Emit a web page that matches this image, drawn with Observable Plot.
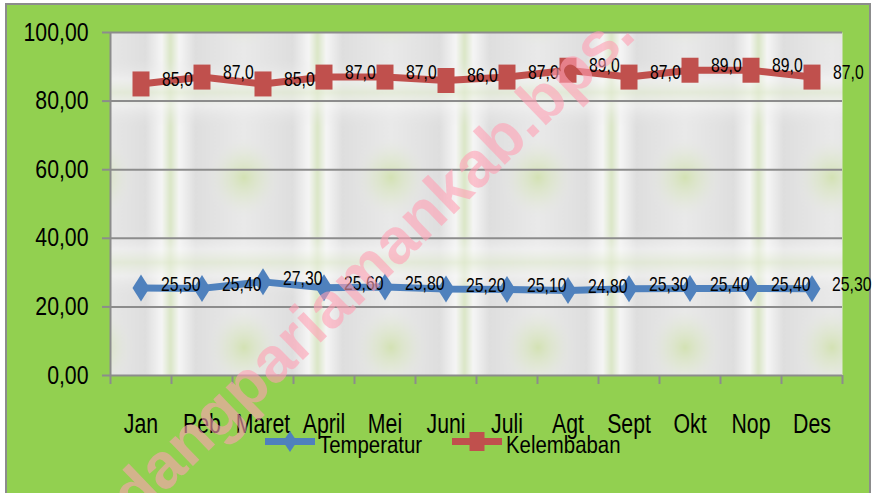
<!DOCTYPE html>
<html><head><meta charset="utf-8">
<script src="https://cdn.jsdelivr.net/npm/d3@7"></script>
<script src="https://cdn.jsdelivr.net/npm/@observablehq/plot@0.6"></script>
<style>
html,body{margin:0;padding:0;background:#fff;overflow:hidden;}
#wrap{position:relative;width:873px;height:493px;overflow:hidden;}
#bg{position:absolute;left:5px;top:3px;width:862px;height:500px;background:#92D050;border:2px solid #8c8c8c;}
#chart{position:absolute;left:0;top:0;}
#over{position:absolute;left:0;top:0;pointer-events:none;}
</style></head><body>
<div id="wrap"><div id="bg"></div><div id="chart"></div><svg id="over" width="873" height="493"></svg></div>
<script>
const months = ["Jan","Peb","Maret","April","Mei","Juni","Juli","Agt","Sept","Okt","Nop","Des"];
const temperatur = [25.5,25.4,27.3,25.6,25.8,25.2,25.1,24.8,25.3,25.4,25.4,25.3];
const kelembaban = [85,87,85,87,87,86,87,89,87,89,89,87];
const yTicks = [0,20,40,60,80,100];
const seriesNames = ["Temperatur","Kelembaban"];
const seriesColors = ["#4F81BD","#C0504D"];
const watermark = "padangpariamankab.bps.";

const FONT = '"Liberation Sans",Arial,sans-serif';
const fmt = (v, n) => v.toFixed(n).replace(".", ",");

const tempRows = months.map((m, i) => ({m, x: i + 0.5, v: temperatur[i]}));
const humRows = months.map((m, i) => ({m, x: i + 0.5, v: kelembaban[i]}));

const diamond = {draw(ctx) {ctx.moveTo(0,-13.5);ctx.lineTo(8.5,0);ctx.lineTo(0,13.5);ctx.lineTo(-8.5,0);ctx.closePath();}};
const square = {draw(ctx) {ctx.rect(-8.5,-12.5,17,25);}};

const plot = Plot.plot({
  width: 873, height: 493,
  marginLeft: 110, marginRight: 31, marginTop: 32, marginBottom: 118,
  style: {background: "transparent", fontFamily: FONT, color: "#000", overflow: "visible"},
  x: {domain: [0, 12], label: null},
  y: {domain: [0, 100], label: null},
  marks: [
    Plot.frame({fill: "url(#bgpat)", stroke: null}),
    Plot.gridY(yTicks, {stroke: "#8c8c8c", strokeOpacity: 1, strokeWidth: 2}),
    Plot.ruleX([0], {stroke: "#8c8c8c", strokeWidth: 2}),
    Plot.axisY({ticks: yTicks, tickFormat: d => fmt(d, 2), tickSize: 8, tickPadding: 14, fontSize: 25, stroke: "#8c8c8c", strokeWidth: 2}),
    Plot.axisX({ticks: d3.range(13), tickFormat: () => "", tickSize: 9, stroke: "#8c8c8c", strokeWidth: 2}),
    Plot.axisX({ticks: months.map((m, i) => i + 0.5), tickFormat: d => months[Math.floor(d)], tickSize: 0, tickPadding: 38, fontSize: 28}),
    Plot.line(tempRows, {x: "x", y: "v", stroke: seriesColors[0], strokeWidth: 7, strokeLinejoin: "round"}),
    Plot.line(humRows, {x: "x", y: "v", stroke: seriesColors[1], strokeWidth: 7, strokeLinejoin: "round"}),
    Plot.dot(tempRows, {x: "x", y: "v", symbol: diamond, fill: seriesColors[0], stroke: "none"}),
    Plot.dot(humRows, {x: "x", y: "v", symbol: square, fill: seriesColors[1], stroke: "none"}),
    Plot.text(tempRows, {x: "x", y: "v", text: d => fmt(d.v, 2), dx: 20, dy: -4, textAnchor: "start", fontSize: 21, fill: "#000"}),
    Plot.text(humRows, {x: "x", y: "v", text: d => fmt(d.v, 1), dx: 21, dy: -5, textAnchor: "start", fontSize: 21, fill: "#000"})
  ]
});
document.getElementById("chart").appendChild(plot);

// narrow the text horizontally (the reference uses a condensed face)
function squeeze(sel, s) {
  plot.querySelectorAll(sel).forEach(t => {
    const tr = t.getAttribute("transform");
    if (tr && tr.includes("translate")) t.setAttribute("transform", tr + ` scale(${s},1)`);
    else {
      const x = +t.getAttribute("x") || 0, y = +t.getAttribute("y") || 0;
      t.setAttribute("transform", `translate(${x},${y}) scale(${s},1) translate(${-x},${-y})`);
    }
  });
}
squeeze('g[aria-label="y-axis tick label"] text', 0.85);
squeeze('g[aria-label="x-axis tick label"] text', 0.76);
squeeze('g[aria-label="text"] text', 0.75);

// background texture pattern for plot area
const svg = d3.select(plot);
const defs = svg.insert("defs", ":first-child");
const gx = defs.append("linearGradient").attr("id", "gx").attr("x1", 0).attr("x2", 1).attr("y1", 0).attr("y2", 0);
[[0,"#dae6c6"],[0.06,"#f5f5f5"],[0.17,"#dedede"],[0.5,"#e9e9e9"],[0.83,"#dedede"],[0.94,"#f5f5f5"],[1,"#dae6c6"]]
  .forEach(([o,c]) => gx.append("stop").attr("offset", o).attr("stop-color", c));
const gy = defs.append("linearGradient").attr("id", "gy").attr("x1", 0).attr("x2", 0).attr("y1", 0).attr("y2", 1);
[[0,"#e2ebd2",0.7],[0.08,"#f7f7f7",0.5],[0.2,"#e6e6e6",0],[0.8,"#e6e6e6",0],[0.92,"#f7f7f7",0.5],[1,"#e2ebd2",0.7]]
  .forEach(([o,c,a]) => gy.append("stop").attr("offset", o).attr("stop-color", c).attr("stop-opacity", a));
const gr = defs.append("radialGradient").attr("id", "gr");
[[0,"#cfe0aa",0.85],[0.5,"#dae6c4",0.45],[1,"#e8e8e8",0]]
  .forEach(([o,c,a]) => gr.append("stop").attr("offset", o).attr("stop-color", c).attr("stop-opacity", a));
const pat = defs.append("pattern").attr("id", "bgpat").attr("patternUnits", "userSpaceOnUse")
  .attr("x", 170).attr("y", 92).attr("width", 147).attr("height", 170);
pat.append("rect").attr("width", 147).attr("height", 170).attr("fill", "url(#gx)");
pat.append("rect").attr("width", 147).attr("height", 170).attr("fill", "url(#gy)");
pat.append("ellipse").attr("cx", 73.5).attr("cy", 85).attr("rx", 38).attr("ry", 42).attr("fill", "url(#gr)");

// legend + watermark overlay
const over = d3.select("#over");
const legendItems = [
  {name: seriesNames[0], color: seriesColors[0], x0: 265, sym: "diamond"},
  {name: seriesNames[1], color: seriesColors[1], x0: 452, sym: "square"}
];
legendItems.forEach(it => {
  over.append("line").attr("x1", it.x0).attr("x2", it.x0 + 50).attr("y1", 441.5).attr("y2", 441.5)
    .attr("stroke", it.color).attr("stroke-width", 7);
  const cx = it.x0 + 25;
  if (it.sym === "diamond") {
    over.append("path").attr("d", `M${cx},431L${cx+7},441.5L${cx},452L${cx-7},441.5Z`).attr("fill", it.color);
  } else {
    over.append("rect").attr("x", cx - 7.5).attr("y", 432).attr("width", 15).attr("height", 19).attr("fill", it.color);
  }
  const tx = it.x0 + 54;
  over.append("text").attr("font-family", FONT).attr("font-size", 24).attr("fill", "#000")
    .attr("transform", `translate(${tx},453) scale(0.85,1)`).text(it.name);
});
const wm = over.append("text")
  .attr("font-family", FONT).attr("font-weight", "bold").attr("font-size", 64)
  .attr("fill", "rgb(255,160,180)").attr("fill-opacity", 0.6)
  .text(watermark);
const node = wm.node();
wm.attr("x", -node.getSubStringLength(0, 2)).attr("y", 0).attr("transform", "translate(136,521) rotate(-44)");
</script>
</body></html>
